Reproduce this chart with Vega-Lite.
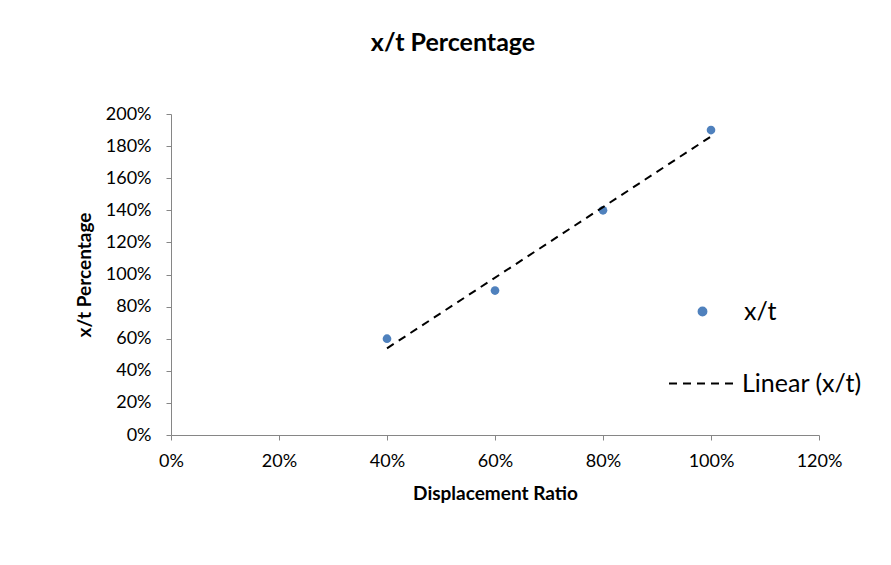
{
  "$schema": "https://vega.github.io/schema/vega-lite/v6.json",
  "autosize": "none",
  "width": 648,
  "height": 321,
  "padding": {"left": 171, "top": 114, "right": 72, "bottom": 130},
  "background": "white",
  "config": {
    "font": "Lato",
    "view": {"stroke": null},
    "axis": {
      "domainColor": "#868686",
      "tickColor": "#868686",
      "tickSize": 5,
      "grid": false,
      "labelFont": "Lato",
      "labelFontSize": 18,
      "labelColor": "#000000",
      "labelFlush": false,
      "titleFont": "Lato",
      "titleFontSize": 19,
      "titleFontWeight": "bold",
      "titleColor": "#000000"
    },
    "legend": {
      "labelFont": "Lato",
      "labelFontSize": 25,
      "labelColor": "#000000",
      "padding": 0,
      "orient": "none"
    }
  },
  "title": {
    "text": "x/t Percentage",
    "font": "Lato",
    "fontSize": 25,
    "fontWeight": "bold",
    "color": "#000000",
    "anchor": "middle",
    "dx": -42,
    "offset": 49
  },
  "data": {
    "values": [
      {"ratio": 0.4, "pct": 0.6},
      {"ratio": 0.6, "pct": 0.9},
      {"ratio": 0.8, "pct": 1.4},
      {"ratio": 1.0, "pct": 1.9}
    ]
  },
  "encoding": {
    "x": {
      "field": "ratio",
      "type": "quantitative",
      "scale": {"domain": [0, 1.2], "nice": false, "zero": true},
      "axis": {
        "title": "Displacement Ratio",
        "format": ".0%",
        "values": [0, 0.2, 0.4, 0.6, 0.8, 1.0, 1.2],
        "labelOverlap": false,
        "labelPadding": 12,
        "titlePadding": 14
      }
    },
    "y": {
      "field": "pct",
      "type": "quantitative",
      "scale": {"domain": [0, 2], "nice": false},
      "axis": {
        "title": "x/t Percentage",
        "format": ".0%",
        "values": [0, 0.2, 0.4, 0.6, 0.8, 1.0, 1.2, 1.4, 1.6, 1.8, 2.0],
        "labelOverlap": false,
        "labelPadding": 15,
        "titlePadding": 11
      }
    }
  },
  "layer": [
    {
      "mark": {"type": "point", "filled": true, "size": 75, "opacity": 1},
      "encoding": {
        "color": {
          "datum": "x/t",
          "scale": {"domain": ["x/t"], "range": ["#4F81BD"]},
          "legend": {
            "title": null,
            "symbolType": "circle",
            "symbolSize": 70,
            "symbolFillColor": "#4F81BD",
            "symbolStrokeColor": "#4F81BD",
            "labelOffset": 29,
            "legendX": 519,
            "legendY": 185
          }
        }
      }
    },
    {
      "transform": [{"regression": "pct", "on": "ratio"}],
      "mark": {"type": "line", "color": "#000000", "strokeWidth": 2},
      "encoding": {
        "strokeDash": {
          "datum": "Linear (x/t)",
          "scale": {"domain": ["Linear (x/t)"], "range": [[8, 6]]},
          "legend": {
            "title": null,
            "symbolType": "stroke",
            "symbolSize": 4489,
            "symbolStrokeWidth": 2,
            "symbolStrokeColor": "#000000",
            "symbolDash": [8, 6],
            "labelOffset": 5,
            "legendX": 497,
            "legendY": 235
          }
        }
      }
    }
  ]
}
